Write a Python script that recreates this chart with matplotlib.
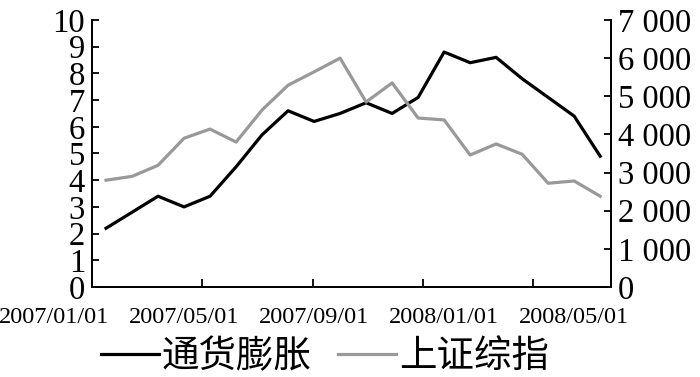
import numpy as np
import matplotlib.pyplot as plt
from matplotlib.ticker import FuncFormatter

plt.rcParams['font.family'] = ['Liberation Serif', 'DejaVu Serif']

# monthly data, 2007/01 .. 2008/08
cpi = [2.2, 2.8, 3.4, 3.0, 3.4, 4.5, 5.7, 6.6, 6.2, 6.5,
       6.9, 6.5, 7.1, 8.8, 8.4, 8.6, 7.8, 7.1, 6.4, 4.9]
sse = [2800, 2900, 3190, 3900, 4140, 3800, 4640, 5290, 5640, 6000,
       4850, 5350, 4430, 4380, 3460, 3750, 3480, 2720, 2780, 2380]
date_labels = ["2007/01/01", "2007/05/01", "2007/09/01", "2008/01/01", "2008/05/01"]
series_names = ["通货膨胀", "上证综指"]

x = np.arange(len(cpi))

fig = plt.figure(figsize=(7, 3.77), dpi=100)
fig.subplots_adjust(left=0.1314, right=0.873, bottom=0.2387, top=0.947)
ax = fig.add_subplot(111)
ax2 = ax.twinx()

l1, = ax.plot(x, cpi, color="black", lw=2.3, label=series_names[0])
l2, = ax2.plot(x, sse, color="#999999", lw=2.3, label=series_names[1])

ax.set_xlim(-0.54, 19.42)
ax.set_ylim(0, 10)
ax2.set_ylim(0, 7000)

ax.set_yticks(range(0, 11))
ax2.set_yticks(range(0, 7001, 1000))
ax2.yaxis.set_major_formatter(FuncFormatter(
    lambda v, p: "0" if v == 0 else "%d %03d" % (v // 1000, v % 1000)))

# x ticks (unlabelled) and the date labels placed between them
ax.set_xticks([-0.54 + 4.24 * k for k in range(5)])
ax.set_xticklabels([])
for i, lab in enumerate(date_labels):
    ax.text(-2 + 5 * i, -0.116, lab, transform=ax.get_xaxis_transform(),
            ha="center", va="center", fontsize=17.5, clip_on=False)

for a in (ax, ax2):
    a.spines["top"].set_visible(False)
    for s in a.spines.values():
        s.set_linewidth(1.3)
    a.tick_params(direction="in", length=5, width=1.3, labelsize=23.5, pad=5)

ax.tick_params(axis="x", length=6)

fig.legend([l1, l2], series_names, loc="center", bbox_to_anchor=(0.464, 0.055),
           ncol=2, frameon=False, handlelength=1.55, handletextpad=0.08,
           columnspacing=0.7, prop={"family": ["Noto Sans CJK SC"], "size": 27})

plt.savefig("out.png")
